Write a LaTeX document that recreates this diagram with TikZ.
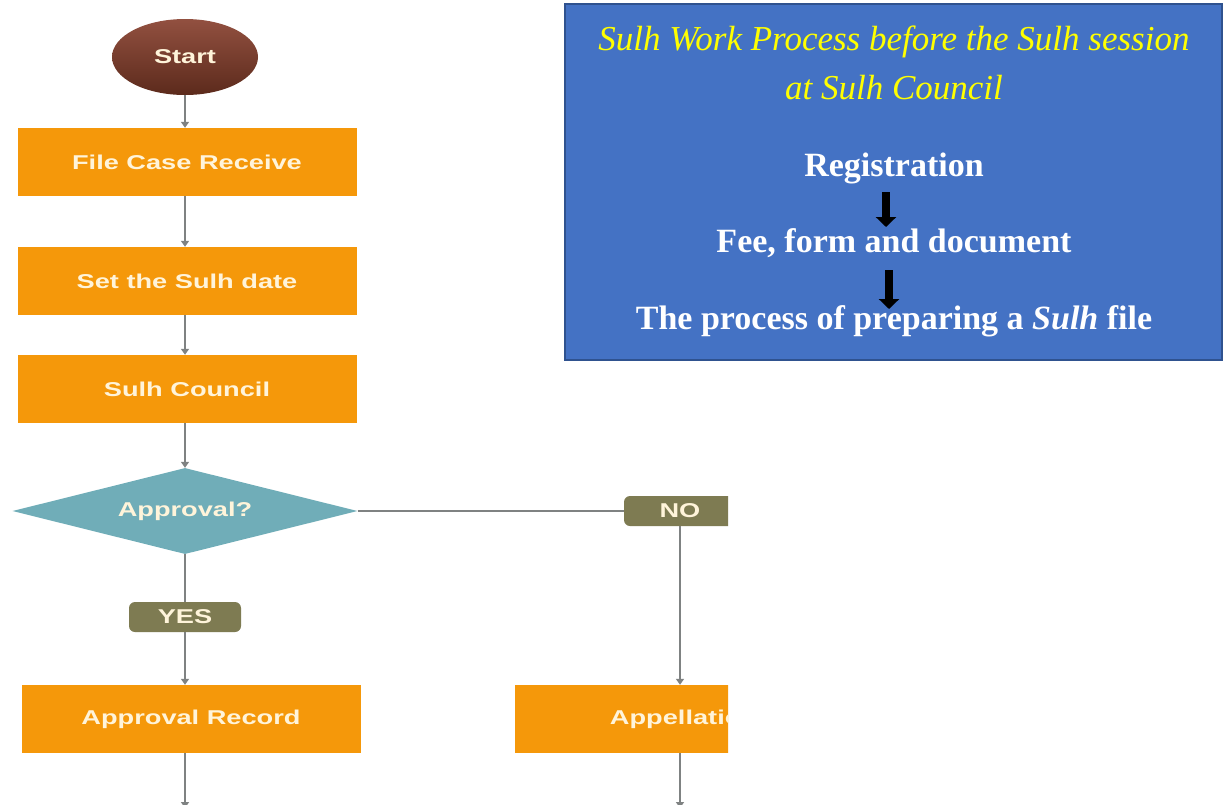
\documentclass[tikz,border=0pt]{standalone}
\usepackage{fontspec}
\setmainfont{Liberation Serif}
\newfontfamily\arialfont{Liberation Sans}
\usetikzlibrary{shapes.geometric,arrows.meta}
\definecolor{orangebox}{HTML}{F5980A}
\definecolor{brownTop}{HTML}{925040}
\definecolor{brownBot}{HTML}{5C2A1C}
\definecolor{tealdia}{HTML}{70ADB8}
\definecolor{olivelab}{HTML}{7E7B52}
\definecolor{creamtxt}{HTML}{FFF4DA}
\definecolor{grayline}{HTML}{7F8282}
\definecolor{bluebox}{HTML}{4472C4}
\definecolor{blueedge}{HTML}{2F528F}
\definecolor{titleyellow}{HTML}{FFFF00}
\newcommand{\widetxt}[1]{\scalebox{1.36}[1]{#1}}
\begin{document}
\begin{tikzpicture}[x=1pt,y=-1pt,
  flowtext/.style={font=\arialfont\bfseries\fontsize{20}{22}\selectfont, text=creamtxt},
  procbox/.style={rectangle, fill=orangebox, minimum width=339pt, minimum height=68pt, inner sep=0pt, flowtext},
  startnode/.style={ellipse, top color=brownTop, bottom color=brownBot, minimum width=146pt, minimum height=76pt, inner sep=0pt, flowtext},
  decnode/.style={diamond, fill=tealdia, minimum width=345pt, minimum height=86pt, aspect=4, inner sep=0pt, flowtext},
  yesno/.style={rectangle, rounded corners=6pt, fill=olivelab, minimum width=112pt, minimum height=30pt, inner sep=0pt, flowtext},
  conn/.style={draw=grayline, line width=1.6pt, -{Triangle[length=6pt,width=8pt]}},
  plain/.style={draw=grayline, line width=1.6pt},
  bigarrow/.style={draw=black, line width=8pt, -{Triangle[length=10pt,width=20pt]}},
  headtxt/.style={font=\itshape\fontsize{35}{38}\selectfont, text=titleyellow, inner sep=0pt, anchor=base},
  bodytxt/.style={font=\bfseries\fontsize{34}{37}\selectfont, text=white, inner sep=0pt, anchor=base}
]
\useasboundingbox (0,0) rectangle (1223,804);
\fill[white] (0,0) rectangle (1223,804);

\begin{scope}
\clip (0,0) rectangle (728,804);
\node[startnode] (start) at (185,57) {\widetxt{Start}};
\node[procbox] (file) at (187,162) {\widetxt{File Case Receive}};
\node[procbox] (date) at (187,281) {\widetxt{Set the Sulh date}};
\node[procbox] (council) at (187,389) {\widetxt{Sulh Council}};
\node[decnode] (dec) at (185,511) {\widetxt{Approval?}};
\node[yesno] (yes) at (185,617) {\widetxt{YES}};
\node[yesno] (no) at (680,511) {\widetxt{NO}};
\node[procbox] (rec) at (191,719) {\widetxt{Approval Record}};
\node[procbox] (app) at (684,719) {\widetxt{Appellation}};
\coordinate (recend) at (185,808);
\coordinate (append) at (680,808);

\draw[conn] (start.south) -- (file.north -| start.south);
\draw[conn] (file.south -| start.south) -- (date.north -| start.south);
\draw[conn] (date.south -| start.south) -- (council.north -| start.south);
\draw[conn] (council.south -| start.south) -- (dec.north);
\draw[plain] (dec.east) -- (no.west);
\draw[plain] (dec.south) -- (yes.north);
\draw[conn] (yes.south) -- (rec.north -| yes.south);
\draw[conn] (no.south) -- (app.north -| no.south);
\draw[conn] (rec.south -| yes.south) -- (recend);
\draw[conn] (app.south -| no.south) -- (append);
\end{scope}

\node[rectangle, fill=bluebox, draw=blueedge, line width=2pt, minimum width=657pt, minimum height=356pt, inner sep=0pt] (panel) at (893,182) {};
\node[headtxt] (t1) at (894,50) {Sulh Work Process before the Sulh session};
\node[headtxt] (t2) at (894,99) {at Sulh Council};
\node[bodytxt] (reg) at (894,176) {Registration};
\node[bodytxt] (fee) at (894,252) {Fee, form and document};
\node[bodytxt] (proc) at (894,329) {The process of preparing a \textit{Sulh} file};
\coordinate (a1s) at (886,192);
\coordinate (a1e) at (886,227);
\coordinate (a2s) at (889,270);
\coordinate (a2e) at (889,309);
\draw[bigarrow] (a1s) -- (a1e);
\draw[bigarrow] (a2s) -- (a2e);
\end{tikzpicture}
\end{document}
